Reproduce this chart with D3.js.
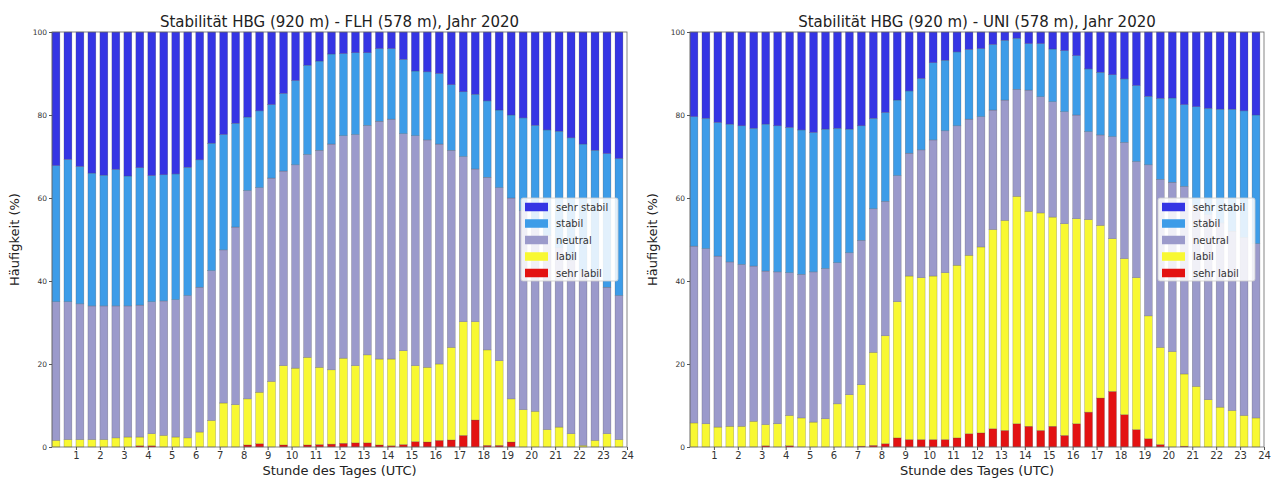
<!DOCTYPE html>
<html>
<head>
<meta charset="utf-8">
<script src="https://cdn.jsdelivr.net/npm/d3@7"></script>
<style>
  body { margin: 0; background: #fff; }
  text { font-family: "DejaVu Sans", sans-serif; }
</style>
</head>
<body>
<svg id="chart" width="1274" height="479"></svg>
<script>
// classes, bottom to top of each stacked bar
const classes = ["sehr labil", "labil", "neutral", "stabil", "sehr stabil"];
const hourTicks = d3.range(1, 25);
const yTicks = [0, 20, 40, 60, 80, 100];

// HBG - FLH, half-hourly frequencies (%)
const flhSehrLabil = [0,0,0,0,0,0,0,0.3,0.3,0, 0,0,0,0,0,0,0.5,0.8,0,0.5, 0,0.5,0.6,0.7,0.9,1.0,1.0,0.5,0.3,0.6, 1.3,1.2,1.6,1.7,2.8,6.5,0.4,0.4,1.2,0, 0,0,0,0,0,0,0,0];
const flhLabil = [1.6,1.8,1.8,1.8,1.8,2.2,2.4,2.1,2.9,2.8, 2.4,2.2,3.6,6.4,10.6,10.2,11.1,12.4,15.8,19.1, 19,21.1,18.6,17.9,20.5,18.6,21.2,20.7,20.9,22.6, 18.3,18,18.4,22.3,27.4,23.7,23,20.4,10.4,9, 8.6,4.2,4.8,3.2,0.4,1.6,3.2,1.8];
const flhNeutral = [33.4,33.2,32.7,32.2,32.2,31.8,31.6,31.8,31.8,32.4, 33.1,34.3,34.9,36.1,36.9,42.8,50.2,49.3,49,46.9, 49,48.9,52.3,54.4,53.6,55.7,55.3,57.3,57.8,52.3, 55.4,54.8,53,47.5,39.8,36.8,41.6,41.7,48.4,48, 45.4,46.8,43.2,41.8,42.1,38.9,35.3,34.7];
const flhStabil = [32.8,34.3,33.1,32,31.5,32.9,31.3,33.1,30.4,30.4, 30.3,30.9,30.7,30.7,27.8,25,17.7,18.5,17.7,18.7, 20.3,21.5,21.5,21.7,19.8,19.7,17.5,17.5,17,17.9, 15.6,16.4,17,15.8,15.6,18,18.4,18.7,20,22.3, 23.5,25.4,28.1,29.5,30.5,31,32.2,33];
const flhSehrStabil = [32.2,30.7,32.4,34,34.5,33.1,34.7,32.7,34.6,34.4, 34.2,32.6,30.8,26.8,24.7,22,20.5,19,17.5,14.8, 11.7,8,7,5.3,5.2,5,5,4,4,6.6, 9.4,9.6,10,12.7,14.4,15,16.6,18.8,20,20.7, 22.5,23.6,23.9,25.5,27,28.5,29.3,30.5];

// HBG - UNI, half-hourly frequencies (%)
const uniSehrLabil = [0,0,0,0,0,0,0.3,0,0.3,0, 0,0,0,0,0.2,0.4,0.8,2.2,1.8,1.8, 1.8,1.8,2.2,3.2,3.4,4.4,4,5.6,5,4, 5,2.8,5.6,8.4,11.8,13.4,7.8,4.2,2,0.6, 0,0.2,0,0,0,0,0,0];
const uniLabil = [5.8,5.6,4.8,5,5,6.2,5.1,5.6,7.3,7, 6,6.8,10.4,12.6,14.8,22.4,26,32.8,39.4,39, 39.4,40.2,41.6,43,44.8,48,50.6,54.8,51.8,52.4, 50.4,51,49.4,46.4,41.6,36.8,37.6,36.6,29.6,23.4, 23,17.4,14.6,11.4,9.6,8.8,7.6,7];
const uniNeutral = [42.6,42.2,41.2,39.6,39,37.4,37,36.6,34.4,34.6, 36.2,36.2,34,34.2,34.8,34.6,32.4,30.4,29.6,30.8, 32.8,34.2,33.6,32.8,31.4,28.8,29,25.8,29.2,28, 27.8,27,25,21.2,21.8,24.6,28,28,36.4,40.5, 40.8,45.2,43.4,44.6,44.4,43.2,42.9,42];
const uniStabil = [31.2,31.4,32.2,33.2,33.4,33.2,35.4,35.2,35,34.8, 33.6,33.6,32.4,29.8,27.6,21.8,21.4,18.2,15,17.2, 18.6,17,17.8,16.8,16.4,15.8,14.4,12.3,11.2,12.8, 12.7,14.7,14.3,15.1,15.1,14.9,15.3,18.3,16.5,19.5, 20.3,19.7,24,25.6,27.4,29.4,30.5,31];
const uniSehrStabil = [20.4,20.8,21.8,22.2,22.6,23.2,22.2,22.6,23,23.6, 24.2,23.4,23.2,23.4,22.6,20.8,19.4,16.4,14.2,11.2, 7.4,6.8,4.8,4.2,4,3,2,1.5,2.8,2.8, 4.1,4.5,5.7,8.9,9.7,10.3,11.3,12.9,15.5,16, 15.9,17.5,18,18.4,18.6,18.6,19,20];

const color = d3.scaleOrdinal()
  .domain(classes)
  .range(["#e31212", "#f8f832", "#9b9acb", "#3d9ce8", "#3535e4"]);

const svg = d3.select("#chart");
const plotTop = 32, plotBottom = 447;
const barW = 0.33; // hours

const panels = [
  { title: "Stabilität HBG (920 m) - FLH (578 m), Jahr 2020", left: 52, right: 627,
    series: [flhSehrLabil, flhLabil, flhNeutral, flhStabil, flhSehrStabil] },
  { title: "Stabilität HBG (920 m) - UNI (578 m), Jahr 2020", left: 690, right: 1264,
    series: [uniSehrLabil, uniLabil, uniNeutral, uniStabil, uniSehrStabil] }
];

panels.forEach((p) => {
  const rows = p.series[0].map((_, i) => {
    const r = { slot: i * 0.5 };
    classes.forEach((c, k) => (r[c] = p.series[k][i]));
    return r;
  });
  const stacked = d3.stack().keys(classes)(rows);

  const x = d3.scaleLinear().domain([0, 24]).range([p.left, p.right]);
  const y = d3.scaleLinear().domain([0, 100]).range([plotBottom, plotTop]);
  const g = svg.append("g");

  g.selectAll("g.layer")
    .data(stacked)
    .join("g")
    .attr("class", "layer")
    .attr("fill", (d) => color(d.key))
    .selectAll("rect")
    .data((d) => d)
    .join("rect")
    .attr("x", (d) => x(d.data.slot))
    .attr("width", x(barW) - x(0))
    .attr("y", (d) => y(d[1]))
    .attr("height", (d) => Math.max(0, y(d[0]) - y(d[1])))
    .attr("stroke", "rgba(70,70,70,0.45)")
    .attr("stroke-width", 0.5);

  // frame
  g.append("rect")
    .attr("x", p.left).attr("y", plotTop)
    .attr("width", p.right - p.left).attr("height", plotBottom - plotTop)
    .attr("fill", "none").attr("stroke", "#666").attr("stroke-width", 0.8);

  const xAxis = g.append("g")
    .attr("transform", `translate(0,${plotBottom})`)
    .call(d3.axisBottom(x).tickValues(hourTicks).tickSize(3).tickPadding(2));
  xAxis.select(".domain").remove();
  xAxis.selectAll("text").attr("font-size", 10).attr("fill", "#333").attr("font-family", "DejaVu Sans");
  xAxis.selectAll("line").attr("stroke", "#555");

  const yAxis = g.append("g")
    .attr("transform", `translate(${p.left},0)`)
    .call(d3.axisLeft(y).tickValues(yTicks).tickSize(3).tickPadding(2));
  yAxis.select(".domain").remove();
  yAxis.selectAll("text").attr("font-size", 7.5).attr("fill", "#333").attr("font-family", "DejaVu Sans");
  yAxis.selectAll("line").attr("stroke", "#555");

  g.append("text")
    .attr("x", (p.left + p.right) / 2).attr("y", 27)
    .attr("text-anchor", "middle").attr("font-size", 15).attr("fill", "#222")
    .text(p.title);

  g.append("text")
    .attr("x", (p.left + p.right) / 2).attr("y", 475)
    .attr("text-anchor", "middle").attr("font-size", 13).attr("fill", "#222")
    .text("Stunde des Tages (UTC)");

  g.append("text")
    .attr("transform", `translate(${p.left - 33},${(plotTop + plotBottom) / 2}) rotate(-90)`)
    .attr("text-anchor", "middle").attr("font-size", 13).attr("fill", "#222")
    .text("Häufigkeit (%)");

  // legend
  const lw = 97, lh = 83;
  const lx = p.right - 9 - lw, ly = 198;
  const legend = g.append("g").attr("transform", `translate(${lx},${ly})`);
  legend.append("rect")
    .attr("width", lw).attr("height", lh).attr("rx", 2)
    .attr("fill", "rgba(255,255,255,0.85)").attr("stroke", "#ccc").attr("stroke-width", 0.8);
  const items = classes.slice().reverse();
  const li = legend.selectAll("g.item").data(items).join("g")
    .attr("class", "item")
    .attr("transform", (d, i) => `translate(4,${9 + i * 16.5})`);
  li.append("rect").attr("width", 23).attr("height", 8.5).attr("y", -4.25)
    .attr("fill", (d) => color(d));
  li.append("text").attr("x", 31).attr("dy", "0.35em")
    .attr("font-size", 10).attr("fill", "#333").text((d) => d);
});
</script>
</body>
</html>
